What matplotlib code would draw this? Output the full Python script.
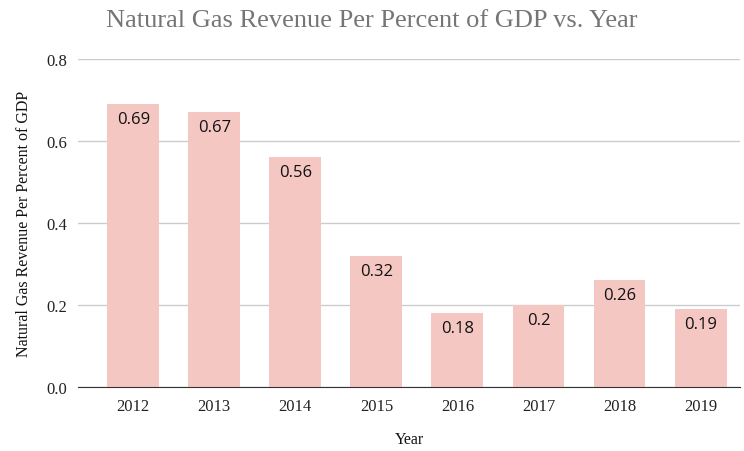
import matplotlib.pyplot as plt

years = ['2012', '2013', '2014', '2015', '2016', '2017', '2018', '2019']
values = [0.69, 0.67, 0.56, 0.32, 0.18, 0.2, 0.26, 0.19]
value_labels = ['0.69', '0.67', '0.56', '0.32', '0.18', '0.2', '0.26', '0.19']
yticks = [0.0, 0.2, 0.4, 0.6, 0.8]

fig = plt.figure(figsize=(7.44, 4.52), dpi=100)
ax = fig.add_axes([0.105, 0.142, 0.89, 0.725])

bars = ax.bar(years, values, width=0.64, color='#f4c7c3', zorder=2)
for rect, lab in zip(bars, value_labels):
    ax.annotate(lab, (rect.get_x() + rect.get_width() / 2, rect.get_height()),
                xytext=(0, -5), textcoords='offset points', ha='center', va='top',
                fontsize=12, family='Open Sans', color='#111111', zorder=3)

ax.set_ylim(0, 0.8)
ax.set_xlim(-0.68, len(years) - 0.51)
ax.set_yticks(yticks)
ax.set_yticklabels([f'{t:.1f}' for t in yticks])
ax.yaxis.grid(True, color='#cccccc', linewidth=1, zorder=0)
ax.tick_params(length=0, labelsize=12, colors='#222222', pad=8)
for lbl in ax.get_xticklabels() + ax.get_yticklabels():
    lbl.set_family('Liberation Serif')
for s in ['top', 'right', 'left']:
    ax.spines[s].set_visible(False)
ax.spines['bottom'].set_color('#333333')
ax.spines['bottom'].set_zorder(4)

ax.set_xlabel('Year', family='Liberation Serif', fontsize=11.5, color='#111111', labelpad=12)
ax.set_ylabel('Natural Gas Revenue Per Percent of GDP', family='Liberation Serif',
              fontsize=11.5, color='#111111', labelpad=10)
fig.text(0.5, 0.953, 'Natural Gas Revenue Per Percent of GDP vs. Year', ha='center', va='center',
         family='Liberation Serif', fontsize=19, color='#757575')

fig.savefig('out.png', dpi=100)
